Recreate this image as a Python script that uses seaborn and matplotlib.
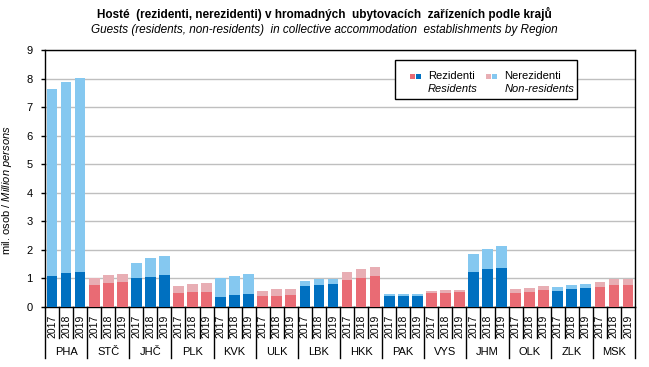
import numpy as np
import pandas as pd
import matplotlib
matplotlib.use("Agg")
import matplotlib.pyplot as plt
import seaborn as sns
from matplotlib.patches import Rectangle
from matplotlib.lines import Line2D

regions = ["PHA", "STČ", "JHČ", "PLK", "KVK", "ULK", "LBK", "HKK", "PAK", "VYS", "JHM", "OLK", "ZLK", "MSK"]
years = ["2017", "2018", "2019"]
residents = [1.08, 1.19, 1.23,  0.76, 0.84, 0.88,  1.01, 1.05, 1.11,  0.49, 0.53, 0.53,
             0.34, 0.41, 0.44,  0.39, 0.39, 0.42,  0.72, 0.76, 0.79,  0.94, 1.01, 1.08,
             0.37, 0.37, 0.37,  0.48, 0.48, 0.51,  1.22, 1.32, 1.36,  0.48, 0.51, 0.58,
             0.55, 0.62, 0.65,  0.69, 0.76, 0.76]
totals = [7.62, 7.88, 8.01,  1.01, 1.11, 1.15,  1.54, 1.72, 1.78,  0.72, 0.79, 0.83,
          1.01, 1.08, 1.15,  0.55, 0.62, 0.62,  0.90, 0.97, 0.99,  1.22, 1.32, 1.39,
          0.44, 0.44, 0.44,  0.55, 0.58, 0.58,  1.85, 2.02, 2.13,  0.62, 0.65, 0.72,
          0.69, 0.76, 0.79,  0.86, 0.99, 0.99]

BLUE_D, BLUE_L = "#0070C0", "#85C8F0"
RED_D, RED_L = "#E96B74", "#E8AEB4"

rows = []
for i, r in enumerate(regions):
    for j, y in enumerate(years):
        k = i * 3 + j
        rows.append(dict(key=f"{r} {y}", region=r, year=y, res=residents[k], tot=totals[k],
                         dark=BLUE_D if i % 2 == 0 else RED_D,
                         light=BLUE_L if i % 2 == 0 else RED_L))
df = pd.DataFrame(rows)

plt.rcParams["font.family"] = ["Liberation Sans", "DejaVu Sans"]
plt.rcParams["mathtext.fontset"] = "custom"
plt.rcParams["mathtext.rm"] = "Liberation Sans"
plt.rcParams["mathtext.it"] = "Liberation Sans:italic"

fig = plt.figure(figsize=(6.49, 3.67), dpi=100)
ax = fig.add_axes([45/649, 60/367, 590/649, 257/367])

sns.barplot(data=df, x="key", y="tot", hue="key", palette=dict(zip(df.key, df.light)),
            legend=False, width=0.76, saturation=1, errorbar=None, ax=ax, zorder=2)
sns.barplot(data=df, x="key", y="res", hue="key", palette=dict(zip(df.key, df.dark)),
            legend=False, width=0.76, saturation=1, errorbar=None, ax=ax, zorder=3)

n = len(df)
ax.set_xlim(-0.5, n - 0.5)
ax.set_ylim(0, 9)
ax.set_yticks(range(10))
ax.yaxis.grid(True, color="#BFBFBF", linewidth=1)
ax.set_axisbelow(True)
for s in ax.spines.values():
    s.set_color("black")
    s.set_linewidth(1)
ax.tick_params(axis="y", length=3, width=1, labelsize=8, pad=6)
ax.set_xticks([])
ax.set_xlabel("")
ax.set_ylabel(r"mil. osob / $\it{Million\ persons}$", fontsize=8)
ax.yaxis.set_label_coords(-31/590, (307-190)/257)

trans = ax.get_xaxis_transform()
to_ax = lambda px: -px / 257.0
for k in range(n + 1):
    x = k - 0.5
    long = (k % 3 == 0)
    ax.add_line(Line2D([x, x], [0, to_ax(51 if long else 31)], transform=trans,
                       color="black", linewidth=1, clip_on=False))
for k, row in df.iterrows():
    ax.text(k, to_ax(8), row.year, transform=trans, rotation=90, ha="center", va="top",
            fontsize=7.5)
for i, r in enumerate(regions):
    ax.text(i * 3 + 1, to_ax(45), r, transform=trans, ha="center", va="center", fontsize=8)

fig.text(0.5, 1 - 14/367, "Hosté  (rezidenti, nerezidenti) v hromadných  ubytovacích  zařízeních podle krajů",
         ha="center", va="center", fontsize=8.5, fontweight="bold")
fig.text(0.5, 1 - 30/367, "Guests (residents, non-residents)  in collective accommodation  establishments by Region",
         ha="center", va="center", fontsize=8.5, style="italic")

# legend
fx = lambda px: px / 649
fy = lambda py: 1 - py / 367
fig.add_artist(Rectangle((fx(395), fy(99)), fx(182), 39/367, transform=fig.transFigure,
                         facecolor="white", edgecolor="black", linewidth=1, zorder=5))
sq = 5
for x0, c in [(410, RED_D), (416, BLUE_D), (486, RED_L), (492, BLUE_L)]:
    fig.add_artist(Rectangle((fx(x0), fy(79)), sq/649, sq/367, transform=fig.transFigure,
                             facecolor=c, edgecolor="none", zorder=6))
fig.text(fx(428), fy(76), "Rezidenti", fontsize=8, ha="left", va="center", zorder=7)
fig.text(fx(428), fy(89), "Residents", fontsize=8, ha="left", va="center", style="italic", zorder=7)
fig.text(fx(504), fy(76), "Nerezidenti", fontsize=8, ha="left", va="center", zorder=7)
fig.text(fx(505), fy(89), "Non-residents", fontsize=8, ha="left", va="center", style="italic", zorder=7)

fig.savefig("out.png", dpi=100)
